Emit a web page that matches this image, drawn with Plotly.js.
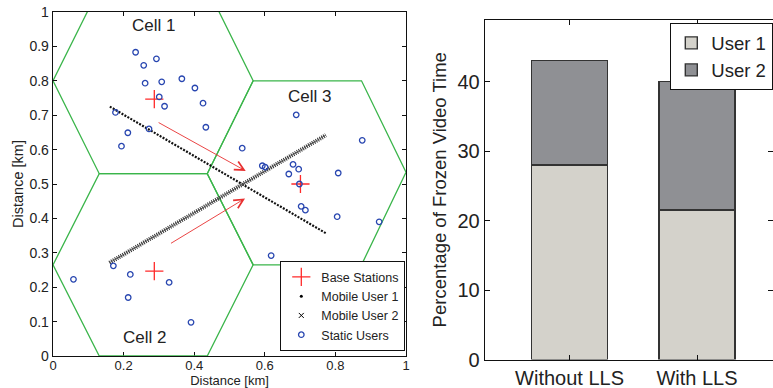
<!DOCTYPE html>
<html>
<head>
<meta charset="utf-8">
<script src="https://cdn.plot.ly/plotly-3.0.1.min.js"></script>
<style>html,body{margin:0;padding:0;background:#fff;}#chart{width:773px;height:388px;}</style>
</head>
<body>
<div id="chart"></div>
<script>
// ---------- Left panel data ----------
const cell1X = [0, 0.131, 0.437, 0.567, 0.437, 0.131, 0];
const cell1Y = [0.8, 0.53, 0.53, 0.8, 1.07, 1.07, 0.8];
const cell2X = [0, 0.131, 0.437, 0.567, 0.437, 0.131, 0];
const cell2Y = [0.265, 0.53, 0.53, 0.265, 0, 0, 0.265];
const cell3X = [0.437, 0.567, 0.874, 1.0, 0.874, 0.567, 0.437];
const cell3Y = [0.53, 0.8, 0.8, 0.534, 0.265, 0.265, 0.53];

const baseX = [0.287, 0.287, 0.701];
const baseY = [0.747, 0.247, 0.500];

const mobile1X = [0.161, 0.773];
const mobile1Y = [0.725, 0.357];
const mobile2X = [0.160, 0.773];
const mobile2Y = [0.271, 0.642];

const staticX = [0.234,0.257,0.293,0.261,0.308,0.365,0.402,0.301,0.316,0.425,0.177,0.212,0.272,0.194,0.433,0.536,0.689,0.876,0.593,0.601,0.680,0.696,0.668,0.808,0.698,0.703,0.715,0.805,0.924,0.618,0.058,0.171,0.219,0.329,0.213,0.391];
const staticY = [0.883,0.845,0.864,0.793,0.797,0.806,0.779,0.753,0.726,0.735,0.708,0.649,0.660,0.610,0.665,0.604,0.701,0.627,0.553,0.549,0.557,0.543,0.529,0.532,0.500,0.435,0.424,0.405,0.390,0.292,0.223,0.262,0.237,0.214,0.170,0.098];

const arrowTailX = [0.295, 0.330];
const arrowTailY = [0.681, 0.325];
const arrowHeadX = [0.546, 0.544];
const arrowHeadY = [0.538, 0.458];

const cellLabels = ["Cell 1", "Cell 2", "Cell 3"];
const cellLabelX = [0.285, 0.26, 0.728];
const cellLabelY = [0.962, 0.055, 0.753];

// ---------- Right panel data ----------
const scenarios = ["Without LLS", "With LLS"];
const user1Pct = [28, 21.5];
const user2Pct = [15, 18.5];

// ---------- Styles ----------
const FONT = "Liberation Sans, Arial, Helvetica, sans-serif";
const GREEN = "#3ab54a";
const RED = "#ff2a2a";
const BLUE = "#2846b0";

const traces = [];
[[cell1X, cell1Y], [cell2X, cell2Y], [cell3X, cell3Y]].forEach(c => {
  traces.push({x: c[0], y: c[1], type: "scatter", mode: "lines",
    line: {color: GREEN, width: 1.3}, showlegend: false, hoverinfo: "skip",
    xaxis: "x", yaxis: "y"});
});
// mobile trajectories
traces.push({x: mobile1X, y: mobile1Y, type: "scatter", mode: "lines",
  line: {color: "#111", width: 2.2, dash: "2px,1.4px"}, showlegend: false, xaxis: "x", yaxis: "y"});
traces.push({x: mobile2X, y: mobile2Y, type: "scatter", mode: "lines",
  line: {color: "#333", width: 4.2, dash: "1px,1.2px"}, showlegend: false, xaxis: "x", yaxis: "y"});
traces.push({x: mobile2X, y: mobile2Y, type: "scatter", mode: "lines",
  line: {color: "#555", width: 1}, showlegend: false, xaxis: "x", yaxis: "y"});
// legend-visible traces
traces.push({x: baseX, y: baseY, type: "scatter", mode: "markers", name: "Base Stations",
  marker: {symbol: "cross-thin", size: 13, color: RED, line: {color: RED, width: 1.3}},
  xaxis: "x", yaxis: "y", legend: "legend"});
traces.push({x: [null], y: [null], type: "scatter", mode: "markers", name: "Mobile User 1",
  marker: {symbol: "circle", size: 3, color: "#000"}, xaxis: "x", yaxis: "y", legend: "legend"});
traces.push({x: [null], y: [null], type: "scatter", mode: "markers", name: "Mobile User 2",
  marker: {symbol: "x-thin", size: 5, color: "#000", line: {color: "#000", width: 1}}, xaxis: "x", yaxis: "y", legend: "legend"});
traces.push({x: staticX, y: staticY, type: "scatter", mode: "markers", name: "Static Users",
  marker: {symbol: "circle-open", size: 5.5, color: BLUE, line: {color: BLUE, width: 1.3}},
  xaxis: "x", yaxis: "y", legend: "legend"});

// bars
traces.push({x: scenarios, y: user1Pct, type: "bar", name: "User 1", width: 0.594,
  marker: {color: "#d4d2cb", line: {color: "#333", width: 1.4}}, xaxis: "x2", yaxis: "y2", legend: "legend2"});
traces.push({x: scenarios, y: user2Pct, type: "bar", name: "User 2", width: 0.594,
  marker: {color: "#8f9094", line: {color: "#333", width: 1.4}}, xaxis: "x2", yaxis: "y2", legend: "legend2"});

const annotations = [];
for (let i = 0; i < arrowTailX.length; i++) {
  annotations.push({xref: "x", yref: "y", axref: "x", ayref: "y",
    x: arrowHeadX[i], y: arrowHeadY[i], ax: arrowTailX[i], ay: arrowTailY[i],
    text: "", showarrow: true, arrowhead: 5, arrowsize: 2, arrowwidth: 0.9, arrowcolor: "#e83030"});
}
for (let i = 0; i < cellLabels.length; i++) {
  annotations.push({xref: "x", yref: "y", x: cellLabelX[i], y: cellLabelY[i], text: cellLabels[i],
    showarrow: false, font: {family: FONT, size: 17, color: "#222"}});
}

const axBase = {showgrid: false, zeroline: false, showline: true, linecolor: "#111", linewidth: 1.3,
  mirror: "ticks", ticks: "inside", ticklen: 4, tickcolor: "#111", tickwidth: 1};

const layout = {
  width: 773, height: 388, autosize: false,
  margin: {l: 0, r: 0, t: 0, b: 0},
  paper_bgcolor: "#fff", plot_bgcolor: "#fff",
  font: {family: FONT, color: "#222"},
  barmode: "stack",
  xaxis: Object.assign({}, axBase, {domain: [53/773, 406/773], range: [0, 1], dtick: 0.2, tick0: 0,
    layer: "below traces",
    tickfont: {size: 13, color: "#222"}, ticklabelstandoff: -3,
    title: {text: "Distance [km]", font: {size: 13, color: "#222"}}}),
  yaxis: Object.assign({}, axBase, {domain: [32/388, 376/388], range: [0, 1], dtick: 0.1, tick0: 0,
    tickfont: {size: 14, color: "#222"},
    title: {text: "Distance [km]", font: {size: 14.5, color: "#222"}, standoff: 2}}),
  xaxis2: Object.assign({}, axBase, {domain: [485/773, 1], type: "category",
    range: [-0.663, 1.596], anchor: "y2", ticklen: 5,
    tickfont: {size: 20, color: "#222"}}),
  yaxis2: Object.assign({}, axBase, {domain: [28.5/388, 368/388], range: [0, 48.85], anchor: "x2",
    tickvals: [0, 10, 20, 30, 40], ticklen: 5,
    tickfont: {size: 20, color: "#222"},
    title: {text: "Percentage of Frozen Video Time", font: {size: 18.5, color: "#222"}, standoff: 6}}),
  legend: {x: 280/773, y: 1 - 261/388, xanchor: "left", yanchor: "top",
    bgcolor: "#fff", bordercolor: "#111", borderwidth: 1.3,
    font: {size: 12.5, color: "#222"}, tracegroupgap: 0, itemwidth: 30},
  legend2: {x: 1, y: 1 - 23/388, xanchor: "right", yanchor: "top",
    bgcolor: "#fff", bordercolor: "#111", borderwidth: 1.3,
    font: {size: 18.5, color: "#222"}, traceorder: "normal", itemwidth: 30},
  annotations: annotations,
  showlegend: true
};

Plotly.newPlot("chart", traces, layout, {displayModeBar: false, staticPlot: true});
</script>
</body>
</html>
